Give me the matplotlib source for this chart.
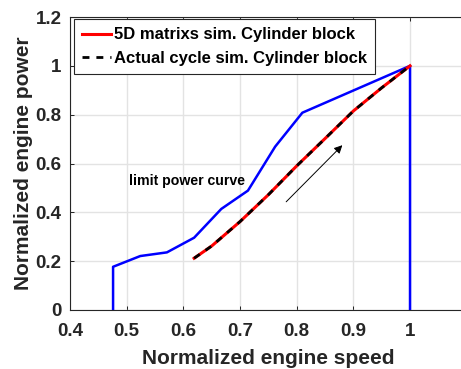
import matplotlib
matplotlib.use("Agg")
import matplotlib.pyplot as plt

limit_speed = [0.476, 0.476, 0.524, 0.571, 0.619, 0.667, 0.714, 0.762, 0.810, 1.0, 1.0]
limit_power = [0.0, 0.177, 0.221, 0.236, 0.296, 0.414, 0.489, 0.669, 0.808, 1.0, 0.0]

sim_speed = [0.619, 0.65, 0.70, 0.75, 0.80, 0.85, 0.90, 0.95, 1.0]
sim_power = [0.212, 0.262, 0.362, 0.472, 0.590, 0.702, 0.815, 0.910, 1.0]

act_speed = sim_speed
act_power = sim_power

xticks = [0.4, 0.5, 0.6, 0.7, 0.8, 0.9, 1.0]
xticklabels = ["0.4", "0.5", "0.6", "0.7", "0.8", "0.9", "1"]
yticks = [0, 0.2, 0.4, 0.6, 0.8, 1.0, 1.2]
yticklabels = ["0", "0.2", "0.4", "0.6", "0.8", "1", "1.2"]

plt.rcParams['font.family'] = ['Liberation Sans', 'DejaVu Sans']
fig = plt.figure(figsize=(4.61, 3.69), dpi=100)
ax = fig.add_axes([70/461, 1-310/369, 396.7/461, 293/369])

ax.plot(limit_speed, limit_power, color='#0000ff', lw=1.8, zorder=3)
ax.plot(sim_speed, sim_power, color='#ff0000', lw=2.2, label='5D matrixs sim. Cylinder block', zorder=4)
ax.plot(act_speed, act_power, color='black', lw=2.0, ls=(0, (2.5, 2.5)), label='Actual cycle sim. Cylinder block', zorder=5)

ax.set_xlim(0.4, 1.1)
ax.set_ylim(0, 1.2)
ax.set_xticks(xticks)
ax.set_xticklabels(xticklabels)
ax.set_yticks(yticks)
ax.set_yticklabels(yticklabels)
ax.grid(True, color='#e3e3e3', lw=1.0)
ax.set_axisbelow(True)
ax.tick_params(direction='in', top=True, right=False, length=3, width=0.6,
               labelsize=13.5, labelcolor='#262626')
ax.tick_params(axis='x', pad=9)
ax.tick_params(axis='y', pad=6)
for lab in ax.get_xticklabels() + ax.get_yticklabels():
    lab.set_fontweight('bold')
for s in ax.spines.values():
    s.set_linewidth(0.8)
    s.set_color('#262626')

ax.set_xlabel('Normalized engine speed', fontsize=15, fontweight='bold', color='#262626', labelpad=7)
ax.set_ylabel('Normalized engine power', fontsize=15, fontweight='bold', color='#262626', labelpad=2)

ax.text(0.606, 0.528, 'limit power curve', fontsize=10.2, fontweight='bold', ha='center', va='center')
ax.annotate('', xy=(0.884, 0.683), xytext=(0.778, 0.435),
            arrowprops=dict(arrowstyle='-|>', color='black', lw=0.7, mutation_scale=12))

leg = ax.legend(loc='upper left', bbox_to_anchor=(4/396.7, 1-2/293), prop={'weight': 'bold', 'size': 12},
                frameon=True, fancybox=False, edgecolor='#262626', framealpha=1,
                handlelength=1.7, handletextpad=0.2, borderpad=0.5, labelspacing=0.5, borderaxespad=0)
leg.get_frame().set_linewidth(0.8)

fig.savefig('out.png', dpi=100)
